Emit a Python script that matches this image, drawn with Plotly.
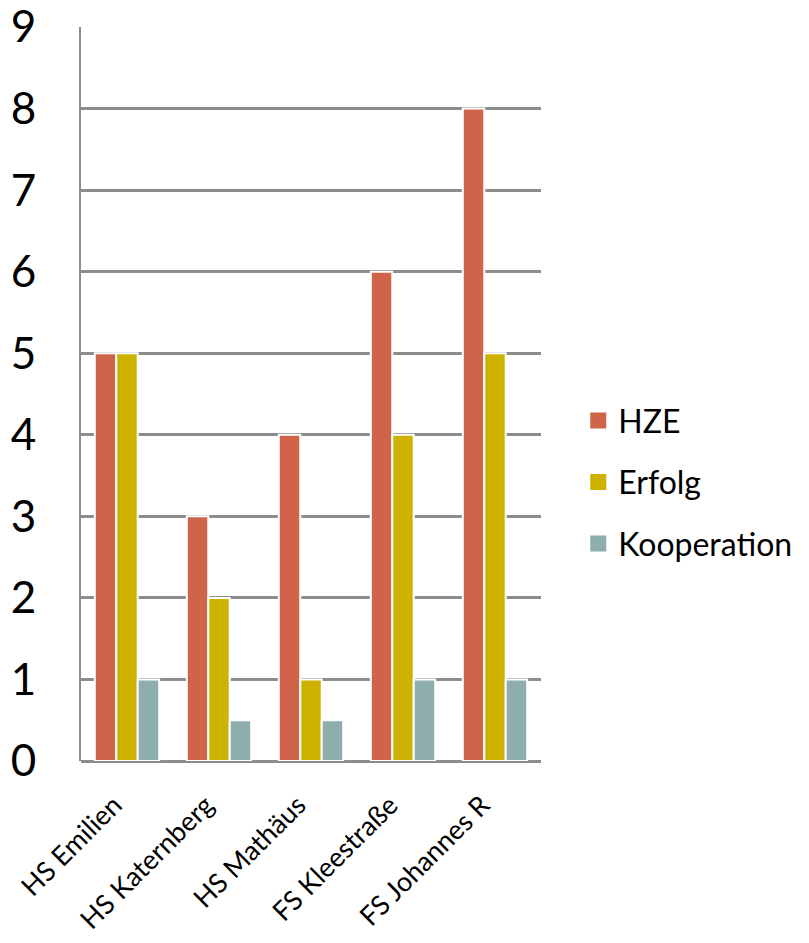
import plotly.graph_objects as go

categories = ["HS Emilien", "HS Katernberg", "HS Mathäus", "FS Kleestraße", "FS Johannes R"]
hze = [5, 3, 4, 6, 8]
erfolg = [5, 2, 1, 4, 5]
kooperation = [1, 0.5, 0.5, 1, 1]
series_names = ["HZE", "Erfolg", "Kooperation"]
colors = ["#D0644A", "#CDB300", "#8EADAD"]
y_ticks = list(range(0, 10))

fig = go.Figure()
for i, (name, vals) in enumerate(zip(series_names, [hze, erfolg, kooperation])):
    fig.add_trace(go.Bar(
        x=categories, y=vals, name=name, legendgroup=name, showlegend=False,
        marker=dict(color=colors[i], line=dict(color="white", width=2)),
    ))
# legend proxies (large square swatches)
for i, name in enumerate(series_names):
    fig.add_trace(go.Scatter(
        x=[None], y=[None], mode="markers", name=name, legendgroup=name,
        marker=dict(symbol="square", size=22, color=colors[i]),
    ))

fig.update_layout(
    width=801, height=935,
    margin=dict(l=73, r=266, t=19, b=182),
    paper_bgcolor="white", plot_bgcolor="white",
    barmode="group", bargap=0.3, bargroupgap=0.0,
    font=dict(family="Lato, Open Sans, sans-serif", color="black"),
    showlegend=True,
    legend=dict(x=1.081, xanchor="left", y=0.38, yanchor="middle",
                font=dict(size=32), tracegroupgap=17,
                itemwidth=30, bgcolor="rgba(0,0,0,0)"),
    xaxis=dict(tickangle=-45, tickfont=dict(size=27), showgrid=False,
               showline=False, ticks="", zeroline=False, automargin=False,
               ticklabelstandoff=22, ticklabelshift=-13),
    yaxis=dict(range=[0, 9], tickvals=y_ticks, ticktext=[str(v) for v in y_ticks],
               tickfont=dict(size=44), showgrid=True, gridcolor="#8C8C8C", gridwidth=3,
               showline=True, linecolor="#8C8C8C", linewidth=2, ticks="",
               zeroline=True, zerolinecolor="#8C8C8C", zerolinewidth=3,
               ticklabelstandoff=34, automargin=False, ticklabeloverflow="allow"),
)

fig.write_html("out.html")
